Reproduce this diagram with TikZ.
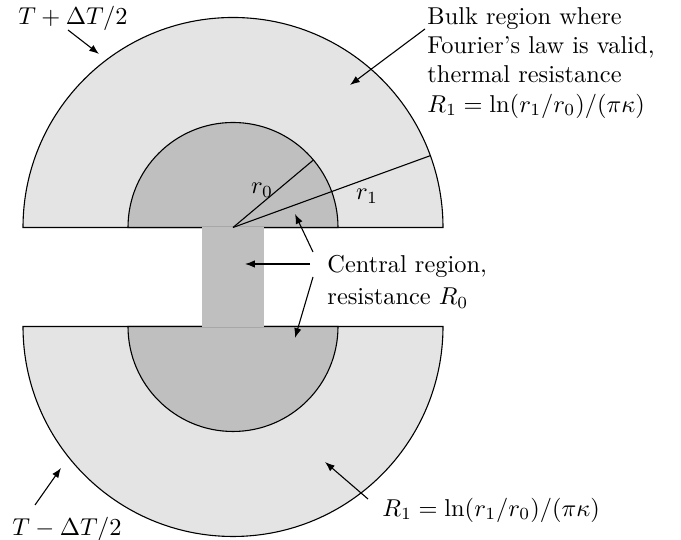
\documentclass[tikz,border=0pt]{standalone}
\usetikzlibrary{arrows.meta}
\definecolor{lightfill}{RGB}{228,228,228}
\definecolor{darkfill}{RGB}{191,191,191}
\tikzset{
  ptr/.style={-{Latex[length=4pt,width=3pt]}, line width=0.45pt},
  lbl/.style={inner sep=0pt, align=left},
  outline/.style={line width=0.45pt}
}
\begin{document}
\begin{tikzpicture}[x=0.41pt,y=0.41pt]
\useasboundingbox (0,0) rectangle (681,540);
% upper half
\filldraw[outline, fill=lightfill] (23,312.5) arc[start angle=180,end angle=0,radius=210] -- cycle;
\filldraw[outline, fill=darkfill] (128,312.5) arc[start angle=180,end angle=0,radius=105] -- cycle;
% lower half
\filldraw[outline, fill=lightfill] (23,213.5) arc[start angle=180,end angle=360,radius=210] -- cycle;
\filldraw[outline, fill=darkfill] (128,213.5) arc[start angle=180,end angle=360,radius=105] -- cycle;
% neck
\fill[darkfill] (202,212.8) rectangle (264,313.2);
% radii
\coordinate (c1) at (233,312.5);
\draw[outline] (c1) -- ++(40:105) coordinate (e0);
\draw[outline] (c1) -- ++(20:210) coordinate (e1);
\node[lbl] (r0) at (262,350) {$r_0$};
\node[lbl] (r1) at (367,344) {$r_1$};
% labels
\node[lbl] (tplus) at (73,522) {$T+\Delta T/2$};
\node[lbl] (tminus) at (67,11) {$T-\Delta T/2$};
\node[lbl, anchor=north west] (bulk) at (427,533) {Bulk region where\\Fourier's law is valid,\\thermal resistance\\$R_1=\ln(r_1/r_0)/(\pi\kappa)$};
\node[lbl, anchor=north west] (central) at (327,285) {Central region,\\[1pt]resistance $R_0$};
\node[lbl, anchor=west] (rbot) at (382,30) {$R_1=\ln(r_1/r_0)/(\pi\kappa)$};
% arrows
\coordinate (a1s) at (68,510); \coordinate (a1e) at (99,486);
\draw[ptr] (a1s) -- (a1e);
\coordinate (a2s) at (425,511); \coordinate (a2e) at (350,455);
\draw[ptr] (a2s) -- (a2e);
\coordinate (a3s) at (313,288); \coordinate (a3e) at (295,326);
\draw[ptr] (a3s) -- (a3e);
\coordinate (a4s) at (310,276); \coordinate (a4e) at (245,276);
\draw[ptr] (a4s) -- (a4e);
\coordinate (a5s) at (313,263); \coordinate (a5e) at (295,202);
\draw[ptr] (a5s) -- (a5e);
\coordinate (a6s) at (35,35); \coordinate (a6e) at (61,72);
\draw[ptr] (a6s) -- (a6e);
\coordinate (a7s) at (368,41); \coordinate (a7e) at (325,78);
\draw[ptr] (a7s) -- (a7e);
\end{tikzpicture}
\end{document}
